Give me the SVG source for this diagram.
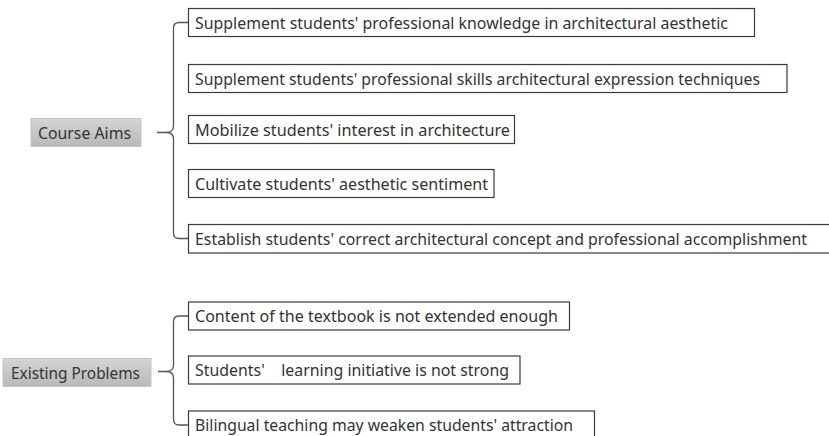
<svg xmlns="http://www.w3.org/2000/svg" width="829" height="436" viewBox="0 0 829 436">
  <defs>
    <linearGradient id="headFill" x1="0" y1="0" x2="0" y2="1">
      <stop offset="0" stop-color="#d4d4d4"/>
      <stop offset="1" stop-color="#b9b9b9"/>
    </linearGradient>
    <style>
      .item rect { fill: #ffffff; stroke: #3a3a3a; stroke-width: 1.2; }
      .head rect { fill: url(#headFill); stroke: #c4c4c4; stroke-width: 1; }
      text { font-family: "Noto Sans", "Liberation Sans", sans-serif; font-size: 16px; fill: #333333; }
      .brace { fill: none; stroke: #555555; stroke-width: 1.3; }
    </style>
  </defs>
  <rect width="829" height="436" fill="#ffffff"/>

  <!-- Course Aims -->
  <g id="course-aims" class="head">
    <rect x="31" y="118.5" width="110" height="28"/>
    <text x="38" y="138.5" textLength="93" lengthAdjust="spacingAndGlyphs">Course Aims</text>
  </g>
  <g id="aim-1" class="item">
    <rect x="188.5" y="8.5" width="566" height="28"/>
    <text x="195" y="28.5" textLength="533" lengthAdjust="spacingAndGlyphs">Supplement students' professional knowledge in architectural aesthetic</text>
  </g>
  <g id="aim-2" class="item">
    <rect x="188.5" y="64.5" width="598.5" height="28"/>
    <text x="195" y="84.5" textLength="565" lengthAdjust="spacingAndGlyphs">Supplement students' professional skills architectural expression techniques</text>
  </g>
  <g id="aim-3" class="item">
    <rect x="188.5" y="115.5" width="326" height="28"/>
    <text x="195" y="135.5" textLength="315" lengthAdjust="spacingAndGlyphs">Mobilize students' interest in architecture</text>
  </g>
  <g id="aim-4" class="item">
    <rect x="188.5" y="169.5" width="305.5" height="28"/>
    <text x="195" y="189.5" textLength="293" lengthAdjust="spacingAndGlyphs">Cultivate students' aesthetic sentiment</text>
  </g>
  <g id="aim-5" class="item">
    <rect x="188.5" y="224.5" width="645" height="28.5"/>
    <text x="195" y="244.5" textLength="612" lengthAdjust="spacingAndGlyphs">Establish students' correct architectural concept and professional accomplishment</text>
  </g>

  <!-- Existing Problems -->
  <g id="existing-problems" class="head">
    <rect x="3" y="358.5" width="148" height="28"/>
    <text x="11" y="378.5" textLength="129" lengthAdjust="spacingAndGlyphs">Existing Problems</text>
  </g>
  <g id="problem-1" class="item">
    <rect x="188.5" y="302" width="381" height="28"/>
    <text x="195" y="322" textLength="363" lengthAdjust="spacingAndGlyphs">Content of the textbook is not extended enough</text>
  </g>
  <g id="problem-2" class="item">
    <rect x="188.5" y="356" width="331.5" height="28"/>
    <text x="195" y="376" textLength="314" lengthAdjust="spacingAndGlyphs" xml:space="preserve">Students'    learning initiative is not strong</text>
  </g>
  <g id="problem-3" class="item">
    <rect x="188.5" y="411" width="406" height="30"/>
    <text x="195" y="431" textLength="378" lengthAdjust="spacingAndGlyphs">Bilingual teaching may weaken students' attraction</text>
  </g>

  <!-- Braces -->
  <g id="connectors">
    <path class="brace" d="M188,22.5 H179 Q173.5,22.5 173.5,28 V126 Q173.5,132.5 166,132.5 H157 M166,132.5 Q173.5,132.5 173.5,139 V233 Q173.5,238.5 179,238.5 H188"/>
    <path class="brace" d="M188,316 H179 Q173.5,316 173.5,321.5 V365 Q173.5,371.5 166,371.5 H158 M166,371.5 Q173.5,371.5 173.5,378 V419.5 Q173.5,425 179,425 H188"/>
  </g>
</svg>
